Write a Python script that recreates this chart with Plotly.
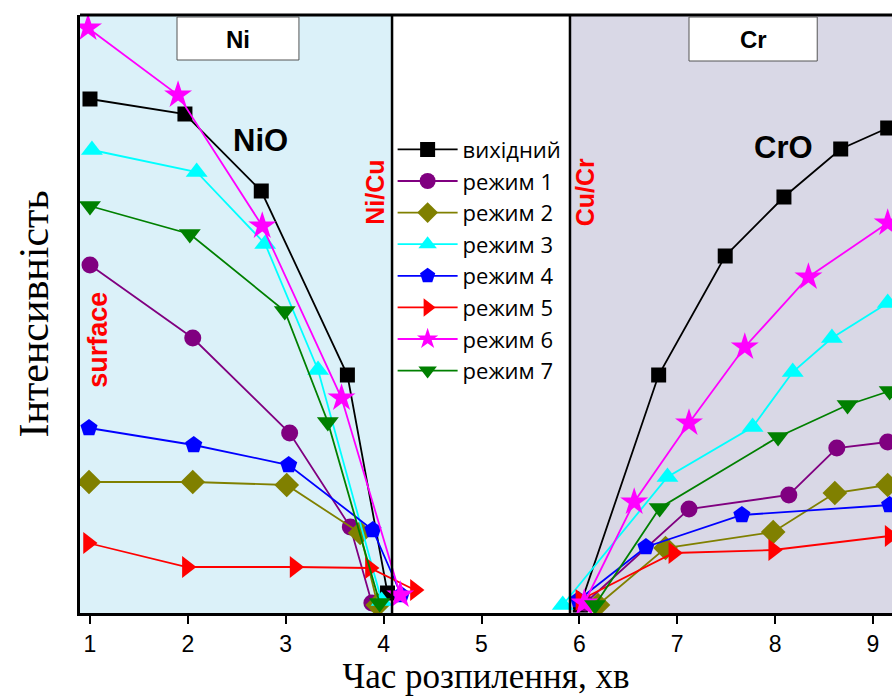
import plotly.graph_objects as go

# Series names
names = ["вихідний", "режим 1", "режим 2", "режим 3", "режим 4", "режим 5", "режим 6", "режим 7"]
colors = ["#000000", "#800080", "#808000", "#00FFFF", "#0000FF", "#FF0000", "#FF00FF", "#008000"]
symbols = ["square", "circle", "diamond", "triangle-up", "pentagon", "triangle-right", "star", "triangle-down"]
msizes = [15, 17, 19, 19, 18, 19, 21, 19]

# Ni region (time, intensity a.u.)
ni_x = [
    [1.00, 1.97, 2.75, 3.63, 4.04],
    [1.00, 2.05, 3.04, 3.66, 3.88],
    [0.99, 2.05, 3.01, 3.76, 3.94],
    [1.02, 2.09, 2.79, 3.33, 3.98],
    [0.99, 2.06, 3.03, 3.89, 4.18],
    [0.98, 1.99, 3.09, 3.86, 4.32],
    [0.98, 1.90, 2.76, 3.57, 4.17],
    [1.00, 2.02, 2.99, 3.43, 3.96],
]
ni_y = [
    [514, 499, 422, 238, 20],
    [348, 275, 180, 86, 10],
    [131, 131, 128, 80, 8],
    [463, 441, 369, 243, 12],
    [185, 168, 148, 83, 18],
    [70, 46, 46, 45, 23],
    [585, 518, 387, 215, 18],
    [407, 379, 302, 191, 10],
]

# Cr region
cr_x = [
    [6.01, 6.81, 7.49, 8.09, 8.67, 9.15],
    [6.06, 7.12, 8.14, 8.63, 9.15],
    [6.19, 6.88, 7.98, 8.61, 9.15],
    [5.83, 6.90, 7.77, 8.18, 8.58, 9.15],
    [5.99, 6.68, 7.66, 9.17],
    [6.01, 6.96, 7.98, 9.17],
    [6.05, 6.56, 7.12, 7.69, 8.34, 9.15],
    [6.16, 6.82, 8.03, 8.74, 9.17],
]
cr_y = [
    [8, 238, 357, 416, 464, 485],
    [10, 104, 118, 165, 171],
    [8, 65, 81, 120, 128],
    [8, 136, 186, 241, 275, 310],
    [13, 66, 98, 108],
    [13, 60, 63, 77],
    [10, 111, 190, 266, 336, 390],
    [8, 105, 176, 208, 222],
]

x_ticks = [1, 2, 3, 4, 5, 6, 7, 8, 9]
x_range = [0.898, 9.194]
y_range = [0, 598]
ni_end = 4.086
cr_start = 5.904

fig = go.Figure()

for i in range(len(names)):
    fig.add_trace(go.Scatter(
        x=ni_x[i], y=ni_y[i], mode="lines+markers", name=names[i],
        line=dict(color=colors[i], width=1.8),
        marker=dict(symbol=symbols[i], size=msizes[i], color=colors[i], line=dict(width=0)),
        legendgroup=names[i], showlegend=True,
    ))
for i in range(len(names)):
    fig.add_trace(go.Scatter(
        x=cr_x[i], y=cr_y[i], mode="lines+markers", name=names[i],
        line=dict(color=colors[i], width=1.8),
        marker=dict(symbol=symbols[i], size=msizes[i], color=colors[i], line=dict(width=0)),
        legendgroup=names[i], showlegend=False,
    ))

shapes = [
    dict(type="rect", xref="x", yref="paper", x0=x_range[0], x1=ni_end, y0=0, y1=1,
         fillcolor="#dbf1f9", line=dict(width=0), layer="below"),
    dict(type="rect", xref="x", yref="paper", x0=cr_start, x1=x_range[1], y0=0, y1=1,
         fillcolor="#d9d8e6", line=dict(width=0), layer="below"),
    dict(type="line", xref="x", yref="paper", x0=ni_end, x1=ni_end, y0=0, y1=1,
         line=dict(color="black", width=2.5)),
    dict(type="line", xref="x", yref="paper", x0=cr_start, x1=cr_start, y0=0, y1=1,
         line=dict(color="black", width=2.5)),
    dict(type="line", xref="paper", yref="paper", x0=0, x1=1, y0=1, y1=1,
         line=dict(color="black", width=3)),
    dict(type="rect", xref="x", yref="y", x0=1.889, x1=3.135, y0=553, y1=596,
         fillcolor="white", line=dict(color="#555555", width=1)),
    dict(type="rect", xref="x", yref="y", x0=7.12, x1=8.43, y0=552, y1=596,
         fillcolor="white", line=dict(color="#555555", width=1)),
]

annotations = [
    dict(x=2.512, y=574, xref="x", yref="y", text="<b>Ni</b>", showarrow=False,
         font=dict(family="Liberation Sans", size=24, color="black")),
    dict(x=7.775, y=574, xref="x", yref="y", text="<b>Cr</b>", showarrow=False,
         font=dict(family="Liberation Sans", size=24, color="black")),
    dict(x=2.737, y=473, xref="x", yref="y", text="<b>NiO</b>", showarrow=False,
         font=dict(family="Liberation Sans", size=31, color="black")),
    dict(x=8.09, y=466, xref="x", yref="y", text="<b>CrO</b>", showarrow=False,
         font=dict(family="Liberation Sans", size=31, color="black")),
    dict(x=3.91, y=421, xref="x", yref="y", text="<b>Ni/Cu</b>", showarrow=False, textangle=-90,
         font=dict(family="Liberation Sans", size=25, color="#FF0000")),
    dict(x=6.06, y=421, xref="x", yref="y", text="<b>Cu/Cr</b>", showarrow=False, textangle=-90,
         font=dict(family="Liberation Sans", size=25, color="#FF0000")),
    dict(x=1.08, y=273, xref="x", yref="y", text="<b>surface</b>", showarrow=False, textangle=-90,
         font=dict(family="Liberation Sans", size=27, color="#FF0000")),
]

fig.update_layout(
    width=892, height=697,
    margin=dict(l=80, r=0, t=15, b=84),
    paper_bgcolor="white", plot_bgcolor="white",
    showlegend=True,
    legend=dict(x=0.385, y=0.81, xanchor="left", yanchor="top",
                bgcolor="rgba(0,0,0,0)", borderwidth=0,
                font=dict(family="Open Sans", size=22, color="black"),
                itemwidth=60, tracegroupgap=0),
    shapes=shapes, annotations=annotations,
    xaxis=dict(range=x_range, tickvals=x_ticks, ticks="outside", ticklen=8, tickwidth=2,
               tickcolor="black", showline=True, linecolor="black", linewidth=3,
               showgrid=False, zeroline=False,
               tickfont=dict(family="Liberation Sans", size=23, color="black"),
               title=dict(text="Час розпилення, хв", standoff=4,
                          font=dict(family="Liberation Serif", size=35, color="black"))),
    yaxis=dict(range=y_range, showticklabels=False, ticks="", showline=True,
               linecolor="black", linewidth=3, showgrid=False, zeroline=False,
               title=dict(text="Інтенсивність", standoff=16,
                          font=dict(family="Liberation Serif", size=42, color="black"))),
)

fig.write_html("out.html")
